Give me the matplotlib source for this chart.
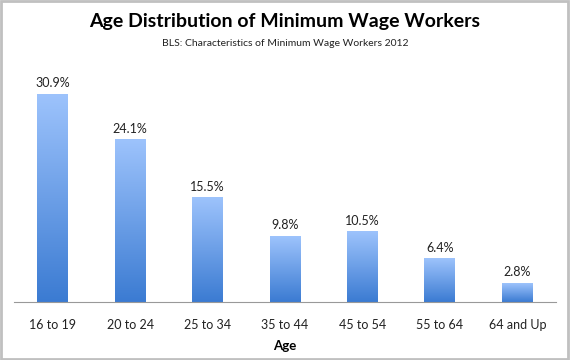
import numpy as np
import matplotlib
matplotlib.use('Agg')
import matplotlib.pyplot as plt
from matplotlib.colors import LinearSegmentedColormap
from matplotlib.patches import Rectangle

plt.rcParams['font.family'] = ['Lato', 'DejaVu Sans']

categories = ['16 to 19', '20 to 24', '25 to 34', '35 to 44', '45 to 54', '55 to 64', '64 and Up']
shares = [30.9, 24.1, 15.5, 9.8, 10.5, 6.4, 2.8]

fig = plt.figure(figsize=(5.7, 3.6), dpi=100)
ax = fig.add_axes([14 / 570, 58 / 360, 542 / 570, 235.5 / 360])

cmap = LinearSegmentedColormap.from_list('bar', ['#3b7bd2', '#9dc3fc'])
grad = np.linspace(0, 1, 256).reshape(-1, 1)

x = np.arange(len(categories))
bars = ax.bar(x, shares, width=0.4, color='none', edgecolor='none')
for b, v in zip(bars, shares):
    x0 = b.get_x()
    ax.imshow(grad, cmap=cmap, origin='lower', aspect='auto',
              extent=[x0, x0 + b.get_width(), 0, v], zorder=2)
    ax.text(b.get_x() + b.get_width() / 2, v + 0.7, f'{v}%',
            ha='center', va='bottom', fontsize=9, color='#222222')

ax.set_xlim(-0.5, len(categories) - 0.5)
ax.set_ylim(0, 35)
ax.set_xticks(x)
ax.set_xticklabels(categories, fontsize=9, color='#222222')
ax.tick_params(axis='x', length=0, pad=12)
ax.set_yticks([])
for s in ['top', 'right', 'left']:
    ax.spines[s].set_visible(False)
ax.spines['bottom'].set_color('#999999')
ax.set_xlabel('Age', fontsize=9.5, fontweight='bold', labelpad=7)

fig.text(0.5, 1 - 22 / 360, 'Age Distribution of Minimum Wage Workers',
         ha='center', va='center', fontsize=14, fontweight='bold', color='black')
fig.text(0.5, 1 - 44 / 360, 'BLS: Characteristics of Minimum Wage Workers 2012',
         ha='center', va='center', fontsize=7.5, color='#222222')

fig.patches.append(Rectangle((0.002, 0.003), 0.995, 0.993, transform=fig.transFigure,
                             fill=False, edgecolor='#c0c0c0', linewidth=2))

fig.savefig('out.png', dpi=100)
